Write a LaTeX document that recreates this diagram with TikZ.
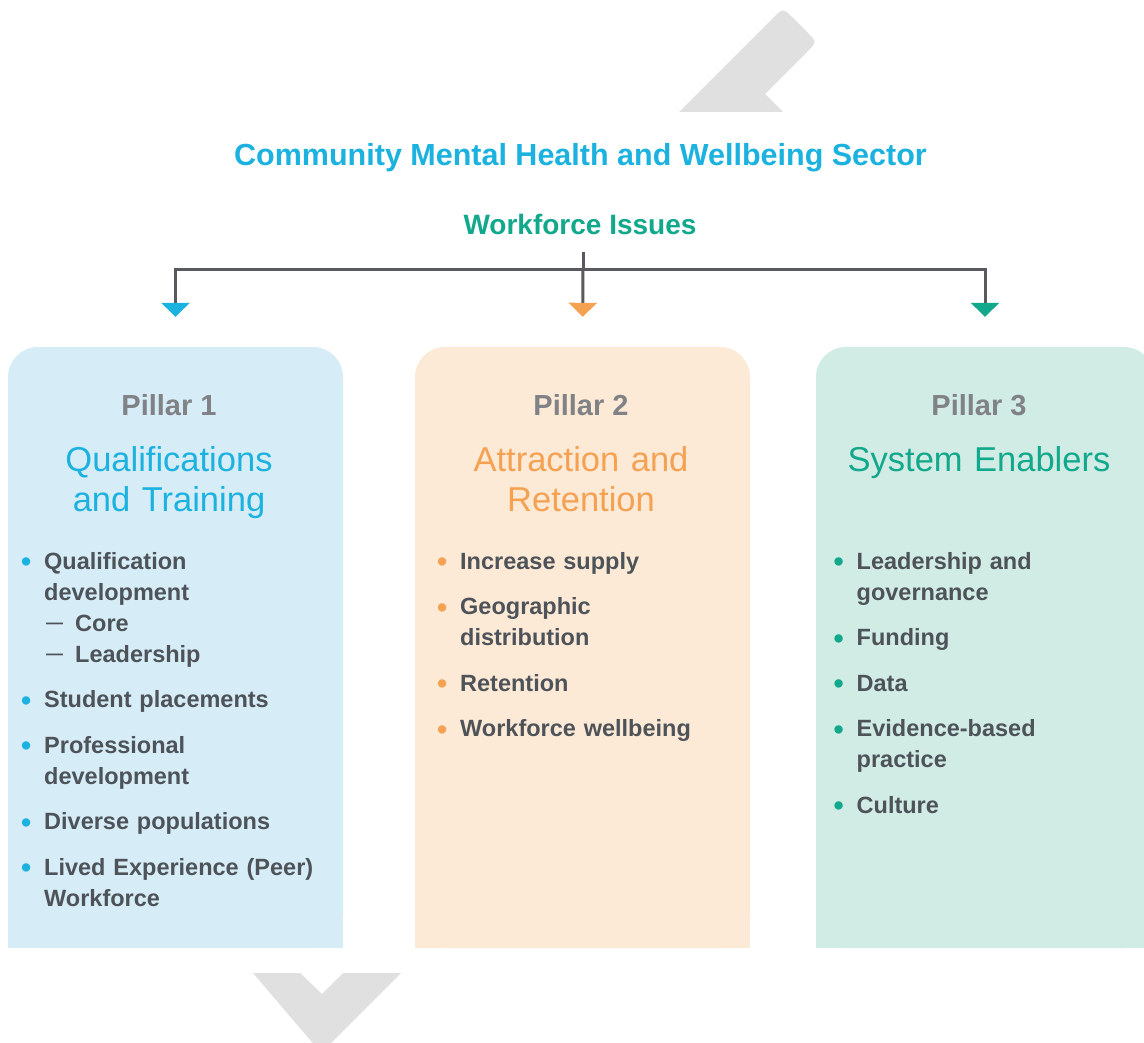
\documentclass[tikz,border=0pt]{standalone}
\usepackage{fontspec}
\setmainfont{Liberation Sans}
\usetikzlibrary{arrows.meta}
\definecolor{tcyan}{RGB}{28,178,224}
\definecolor{tteal}{RGB}{17,168,140}
\definecolor{torange}{RGB}{244,161,82}
\definecolor{fblue}{RGB}{214,236,247}
\definecolor{fpeach}{RGB}{253,234,214}
\definecolor{fmint}{RGB}{209,235,229}
\definecolor{labelgray}{RGB}{128,130,133}
\definecolor{bodygray}{RGB}{77,83,89}
\definecolor{linegray}{RGB}{88,90,95}
\definecolor{shapegray}{RGB}{224,224,224}
\newcommand{\pitem}[2]{\hangindent=18pt\hangafter=1\noindent\makebox[18pt][l]{\makebox[0pt]{\raisebox{-2.5pt}{\textcolor{#1}{\fontsize{29}{31}\selectfont •}}}}#2\par}
\newcommand{\pdash}{\hspace*{2pt}\makebox[29pt][l]{\raisebox{3pt}{\fontsize{17}{31}\selectfont —}}}
\newcommand{\gapitem}{\vspace{14.5pt}}
\begin{document}
\begin{tikzpicture}[x=1pt,y=-1pt,
  conn/.style={draw=linegray, line width=3pt},
  tipc/.style={-{Triangle[width=28pt,length=14pt,color=#1,fill=#1]}, shorten >=30pt},
  pillarbox/.style={rounded corners=30pt, minimum width=335pt, minimum height=601pt, inner sep=0pt, draw=none},
  plabel/.style={font=\fontsize{29}{35}\selectfont\bfseries, text=labelgray, anchor=base, inner sep=0pt},
  phead/.style={font=\fontsize{34.5}{40}\selectfont, text width=334pt, align=center, anchor=base, inner sep=0pt},
  plist/.style={font=\fontsize{23.5}{31}\selectfont\bfseries, text=bodygray, text width=305pt, anchor=base west, inner sep=0pt}
]
\useasboundingbox (0,0) rectangle (1144,1043);
\clip (0,0) rectangle (1144,1043);
\fill[white] (0,0) rectangle (1144,1043);

% decorative grey chevrons
\fill[shapegray] (679,112) -- (773,18) .. controls (783,8) .. (793,18) -- (807,32) .. controls (817,42) .. (807,52) -- (765,94) -- (783,112) -- cycle;
\fill[shapegray] (253,973) -- (300,973) -- (322,994) -- (343,973) -- (401,973) -- (326,1048) -- (317,1048) -- cycle;

% titles
\node[font=\fontsize{30.5}{36}\selectfont\bfseries, text=tcyan, anchor=base, inner sep=0pt] (title) at (580.5,166) {Community Mental Health and Wellbeing Sector};
\node[font=\fontsize{28}{33}\selectfont\bfseries, text=tteal, anchor=base, inner sep=0pt] (issues) at (580,235) {Workforce Issues};

% pillar boxes
\node[pillarbox, fill=fblue] (p1) at (175.5,647.5) {};
\fill[fblue] (p1.west) rectangle (p1.south east);
\node[pillarbox, fill=fpeach] (p2) at (582.5,647.5) {};
\fill[fpeach] (p2.west) rectangle (p2.south east);
\node[pillarbox, fill=fmint, minimum width=338pt] (p3) at (985,647.5) {};
\fill[fmint] (p3.west) rectangle (p3.south east);

% connectors
\coordinate (jc) at (583,270);
\draw[conn, shorten <=17pt] (issues.south -| jc) -- (jc);
\draw[conn, tipc=tcyan] (jc) -| (p1.north);
\draw[conn, tipc=torange] (jc) -- (p2.north);
\draw[conn, tipc=tteal] (jc) -| (p3.north);

% pillar 1
\node[plabel] (l1) at (169,415.5) {Pillar 1};
\node[phead, text=tcyan] (h1) at (169,471) {Qualifications\\and Training};
\node[plist] (b1) at (26,569) {%
\pitem{tcyan}{Qualification\newline development\newline \pdash Core\newline \pdash Leadership}\gapitem
\pitem{tcyan}{Student placements}\gapitem
\pitem{tcyan}{Professional\newline development}\gapitem
\pitem{tcyan}{Diverse populations}\gapitem
\pitem{tcyan}{Lived Experience (Peer)\newline Workforce}};

% pillar 2
\node[plabel] (l2) at (581,415.5) {Pillar 2};
\node[phead, text=torange] (h2) at (581,471) {Attraction and\\Retention};
\node[plist] (b2) at (442,569) {%
\pitem{torange}{Increase supply}\gapitem
\pitem{torange}{Geographic\newline distribution}\gapitem
\pitem{torange}{Retention}\gapitem
\pitem{torange}{Workforce wellbeing}};

% pillar 3
\node[plabel] (l3) at (979,415.5) {Pillar 3};
\node[phead, text=tteal] (h3) at (979,471) {System Enablers};
\node[plist] (b3) at (838.5,569) {%
\pitem{tteal}{Leadership and\newline governance}\gapitem
\pitem{tteal}{Funding}\gapitem
\pitem{tteal}{Data}\gapitem
\pitem{tteal}{Evidence-based\newline practice}\gapitem
\pitem{tteal}{Culture}};
\end{tikzpicture}
\end{document}
